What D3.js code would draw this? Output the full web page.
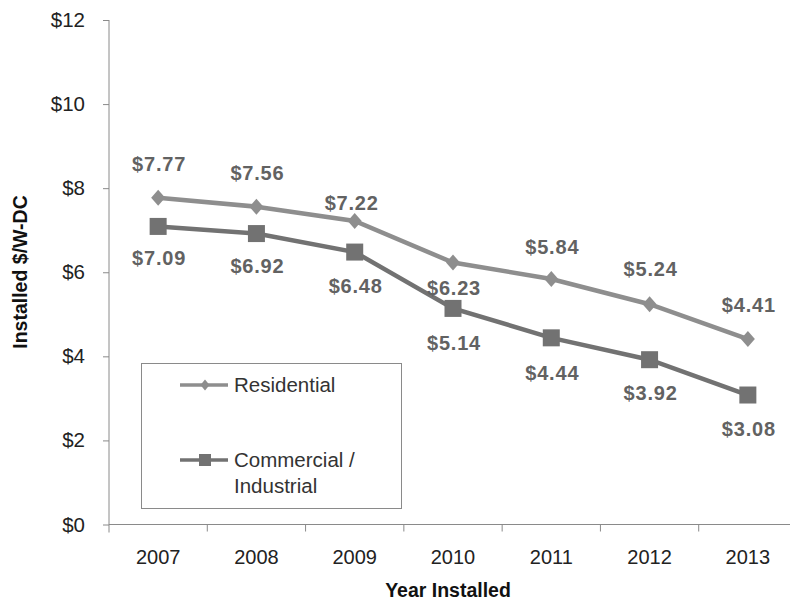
<!DOCTYPE html>
<html>
<head>
<meta charset="utf-8">
<script src="https://cdn.jsdelivr.net/npm/d3@7"></script>
<style>
  html, body { margin: 0; padding: 0; background: #fff; }
  svg { display: block; font-family: "Liberation Sans", Arial, sans-serif; }
</style>
</head>
<body>
<svg id="chart" width="790" height="605"></svg>
<script>
// Installed price of PV systems, $/W-DC, by year installed
const years = ["2007", "2008", "2009", "2010", "2011", "2012", "2013"];
const residential = [7.77, 7.56, 7.22, 6.23, 5.84, 5.24, 4.41];
const commercial = [7.09, 6.92, 6.48, 5.14, 4.44, 3.92, 3.08];
const yTicks = [0, 2, 4, 6, 8, 10, 12];
const seriesNames = ["Residential", "Commercial / Industrial"];

// vertical placement of each value label relative to its marker (px)
const residentialLabelDy = [-34, -34, -18, 25, -32, -35, -34];
const commercialLabelDy = [32, 32, 34, 35, 35, 33, 34];

const svg = d3.select("#chart");

const x = d3.scaleBand().domain(years).range([109, 797]);
const y = d3.scaleLinear().domain([0, 12]).range([524.5, 20]);
const cx = d => x(d) + x.bandwidth() / 2;

// y axis
const yAxis = svg.append("g")
  .attr("transform", `translate(${x.range()[0]},0)`)
  .call(d3.axisLeft(y).tickValues(yTicks).tickFormat(d => "$" + d).tickSize(6).tickPadding(18));
yAxis.select(".domain").attr("stroke", "#8a8a8a").attr("d", `M0,${y(12)}V${y(0) + 8}`);
yAxis.selectAll(".tick line").attr("stroke", "#8a8a8a");
yAxis.selectAll(".tick text").attr("font-size", 20.5).attr("fill", "#222")
  .attr("font-family", "'Liberation Sans', Arial, sans-serif");

// x axis
const xAxis = svg.append("g")
  .attr("transform", `translate(0,${y(0)})`)
  .call(d3.axisBottom(x).tickSize(0).tickPadding(25));
xAxis.select(".domain").attr("stroke", "#8a8a8a").attr("d", `M${x.range()[0]},0H790`);
xAxis.selectAll(".tick text").attr("font-size", 20).attr("fill", "#222")
  .attr("font-family", "'Liberation Sans', Arial, sans-serif");
// tick marks on category boundaries
xAxis.append("g").selectAll("line")
  .data(years.slice(1))
  .join("line")
  .attr("x1", d => x(d)).attr("x2", d => x(d))
  .attr("y1", 0).attr("y2", 7)
  .attr("stroke", "#8a8a8a");

// axis titles
svg.append("text")
  .attr("x", 448).attr("y", 597)
  .attr("text-anchor", "middle")
  .attr("font-size", 19.5).attr("font-weight", "bold").attr("fill", "#111")
  .text("Year Installed");
svg.append("text")
  .attr("transform", "translate(27,272) rotate(-90)")
  .attr("text-anchor", "middle")
  .attr("font-size", 19.5).attr("font-weight", "bold").attr("fill", "#111")
  .text("Installed $/W-DC");

// lines
const line = d3.line().x((d, i) => cx(years[i])).y(d => y(d));
const resColor = "#8e8e8e";
const comColor = "#727272";

svg.append("path").datum(residential)
  .attr("d", line).attr("fill", "none")
  .attr("stroke", resColor).attr("stroke-width", 4.5);
svg.append("path").datum(commercial)
  .attr("d", line).attr("fill", "none")
  .attr("stroke", comColor).attr("stroke-width", 4.5);

// markers
const diamond = (w, h) => `M0,${-h / 2}L${w / 2},0L0,${h / 2}L${-w / 2},0Z`;
svg.append("g").selectAll("path")
  .data(residential)
  .join("path")
  .attr("transform", (d, i) => `translate(${cx(years[i])},${y(d)})`)
  .attr("d", diamond(14, 16))
  .attr("fill", resColor);

svg.append("g").selectAll("rect")
  .data(commercial)
  .join("rect")
  .attr("x", (d, i) => cx(years[i]) - 8.5)
  .attr("y", d => y(d) - 8.5)
  .attr("width", 17).attr("height", 17)
  .attr("fill", comColor);

// value labels
const labelStyle = sel => sel
  .attr("text-anchor", "middle")
  .attr("dy", "0.35em")
  .attr("font-size", 20).attr("font-weight", "bold")
  .attr("letter-spacing", 0.8)
  .attr("fill", "#626262");

svg.append("g").selectAll("text")
  .data(residential)
  .join("text")
  .attr("x", (d, i) => cx(years[i]) + (i === 2 ? -3 : 1))
  .attr("y", (d, i) => y(d) + residentialLabelDy[i])
  .call(labelStyle)
  .text(d => "$" + d.toFixed(2));

svg.append("g").selectAll("text")
  .data(commercial)
  .join("text")
  .attr("x", (d, i) => cx(years[i]) + 1)
  .attr("y", (d, i) => y(d) + commercialLabelDy[i])
  .call(labelStyle)
  .text(d => "$" + d.toFixed(2));

// legend
const legend = svg.append("g");
legend.append("rect")
  .attr("x", 141.5).attr("y", 363.5).attr("width", 260).attr("height", 145)
  .attr("fill", "#fff").attr("stroke", "#8a8a8a").attr("stroke-width", 1);

legend.append("line")
  .attr("x1", 180).attr("x2", 228).attr("y1", 385).attr("y2", 385)
  .attr("stroke", resColor).attr("stroke-width", 3.5);
legend.append("path")
  .attr("transform", "translate(205,385)")
  .attr("d", diamond(9, 11))
  .attr("fill", resColor);
legend.append("text")
  .attr("x", 234).attr("y", 385).attr("dy", "0.35em")
  .attr("font-size", 20.5).attr("fill", "#333")
  .text(seriesNames[0]);

legend.append("line")
  .attr("x1", 180).attr("x2", 228).attr("y1", 460).attr("y2", 460)
  .attr("stroke", comColor).attr("stroke-width", 3.5);
legend.append("rect")
  .attr("x", 199).attr("y", 454).attr("width", 12).attr("height", 12)
  .attr("fill", comColor);
const comLegend = legend.append("text")
  .attr("x", 234).attr("y", 460).attr("dy", "0.35em")
  .attr("font-size", 20.5).attr("fill", "#333");
comLegend.append("tspan").text("Commercial /");
comLegend.append("tspan").attr("x", 234).attr("dy", 26).text("Industrial");
</script>
</body>
</html>
